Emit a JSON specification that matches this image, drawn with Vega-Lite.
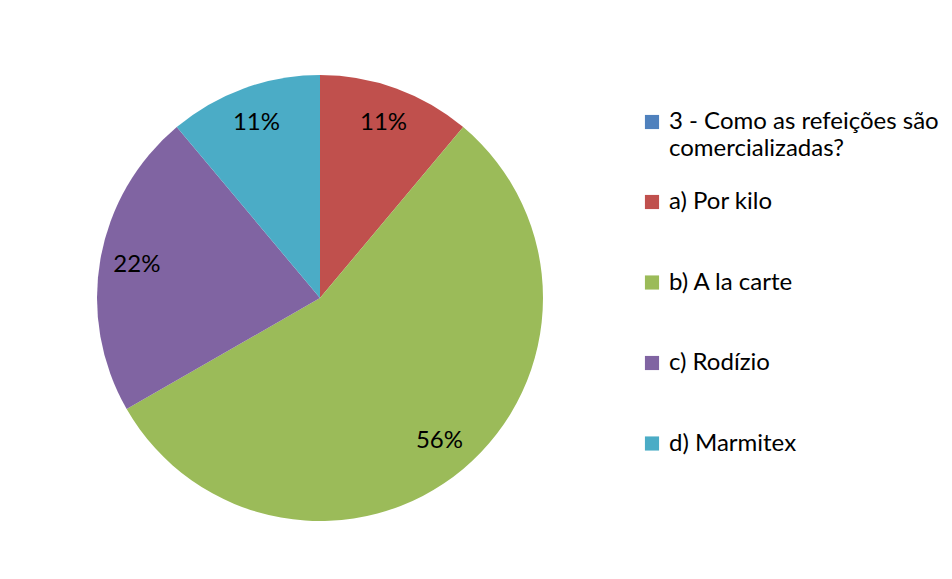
{
  "$schema": "https://vega.github.io/schema/vega-lite/v6.json",
  "autosize": {"type": "none"},
  "padding": {"left": 97, "top": 75, "right": 409, "bottom": 58},
  "width": 446,
  "height": 446,
  "background": "white",
  "config": {"view": {"stroke": null}, "font": "Lato"},
  "data": {
    "values": [
      {"cat": "3 - Como as refeições são comercializadas?", "share": 0},
      {"cat": "a) Por kilo", "share": 0.111},
      {"cat": "b) A la carte", "share": 0.556},
      {"cat": "c) Rodízio", "share": 0.222},
      {"cat": "d) Marmitex", "share": 0.111}
    ]
  },
  "layer": [
    {
      "mark": {"type": "point", "filled": true},
      "transform": [{"filter": "datum.share < 0"}],
      "encoding": {
        "color": {
          "field": "cat",
          "type": "nominal",
          "scale": {"domain": ["3 - Como as refeições são comercializadas?"], "range": ["#4F81BD"]},
          "legend": {
            "title": " ",
            "titleFontSize": 10,
            "titlePadding": 25,
            "orient": "right",
            "offset": 97,
            "padding": 0,
            "symbolType": "square",
            "symbolSize": 200,
            "symbolStrokeWidth": 0,
            "symbolOpacity": 1,
            "labelFont": "Lato",
            "labelFontSize": 24,
            "labelColor": "black",
            "labelLimit": 400,
            "labelOffset": 5,
            "labelExpr": "['3 - Como as refeições são', 'comercializadas?']",
            "encode": {"labels": {"update": {"lineHeight": {"value": 27}}}}
          }
        }
      }
    },
    {
      "mark": {"type": "arc", "outerRadius": 223},
      "transform": [{"filter": "datum.share > 0"}],
      "encoding": {
        "theta": {"field": "share", "type": "quantitative", "stack": true},
        "order": {"field": "cat", "type": "nominal", "sort": "ascending"},
        "fill": {
          "field": "cat",
          "type": "nominal",
          "sort": null,
          "scale": {
            "domain": ["a) Por kilo", "b) A la carte", "c) Rodízio", "d) Marmitex"],
            "range": ["#C0504D", "#9BBB59", "#8064A2", "#4BACC6"]
          },
          "legend": {
            "title": " ",
            "titleFontSize": 10,
            "titlePadding": 11,
            "orient": "right",
            "offset": 97,
            "padding": 0,
            "symbolType": "square",
            "symbolSize": 200,
            "symbolStrokeWidth": 0,
            "labelFont": "Lato",
            "labelFontSize": 24,
            "labelColor": "black",
            "labelLimit": 400,
            "labelOffset": 5,
            "rowPadding": 56.5
          }
        }
      }
    },
    {
      "mark": {"type": "text", "radius": 186, "fontSize": 24, "font": "Lato", "color": "black"},
      "transform": [{"filter": "datum.share > 0"}],
      "encoding": {
        "theta": {"field": "share", "type": "quantitative", "stack": true},
        "order": {"field": "cat", "type": "nominal", "sort": "ascending"},
        "text": {"field": "share", "type": "quantitative", "format": ".0%"}
      }
    }
  ]
}
